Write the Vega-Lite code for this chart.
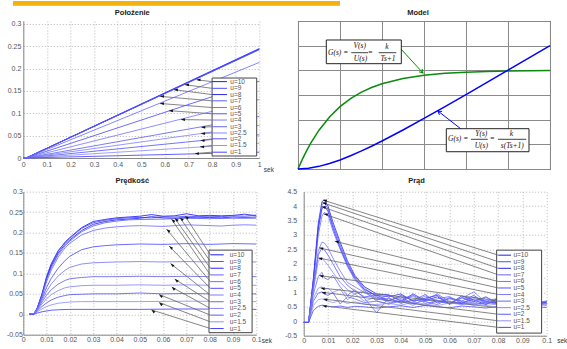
{
"$schema":"https://vega.github.io/schema/vega-lite/v6.json",
"background":"white",
"padding":{"left":1.3,"top":0,"right":0,"bottom":0},
"spacing":3.7,
"datasets":{
"pos":[
{"u":"u=10","t":0,"y":0},{"u":"u=10","t":0.012,"y":0},{"u":"u=10","t":1,"y":0.245},
{"u":"u=9","t":0,"y":0},{"u":"u=9","t":0.012,"y":0},{"u":"u=9","t":1,"y":0.244},
{"u":"u=8","t":0,"y":0},{"u":"u=8","t":0.012,"y":0},{"u":"u=8","t":1,"y":0.243},
{"u":"u=7","t":0,"y":0},{"u":"u=7","t":0.012,"y":0},{"u":"u=7","t":1,"y":0.2425},
{"u":"u=6","t":0,"y":0},{"u":"u=6","t":0.012,"y":0},{"u":"u=6","t":1,"y":0.214},
{"u":"u=5","t":0,"y":0},{"u":"u=5","t":0.012,"y":0},{"u":"u=5","t":1,"y":0.172},
{"u":"u=4","t":0,"y":0},{"u":"u=4","t":0.012,"y":0},{"u":"u=4","t":1,"y":0.131},
{"u":"u=3","t":0,"y":0},{"u":"u=3","t":0.012,"y":0},{"u":"u=3","t":1,"y":0.093},
{"u":"u=2.5","t":0,"y":0},{"u":"u=2.5","t":0.012,"y":0},{"u":"u=2.5","t":1,"y":0.073},
{"u":"u=2","t":0,"y":0},{"u":"u=2","t":0.012,"y":0},{"u":"u=2","t":1,"y":0.052},
{"u":"u=1.5","t":0,"y":0},{"u":"u=1.5","t":0.012,"y":0},{"u":"u=1.5","t":1,"y":0.033},
{"u":"u=1","t":0,"y":0},{"u":"u=1","t":0.012,"y":0},{"u":"u=1","t":1,"y":0.013}
],
"leg1":[
{"u":"u=10","lx":0.8,"ly":0.171,"tx":0.734,"ty":0.175},
{"u":"u=9","lx":0.8,"ly":0.156,"tx":0.685,"ty":0.164},
{"u":"u=8","lx":0.8,"ly":0.142,"tx":0.638,"ty":0.153},
{"u":"u=7","lx":0.8,"ly":0.128,"tx":0.579,"ty":0.138},
{"u":"u=6","lx":0.8,"ly":0.113,"tx":0.579,"ty":0.122},
{"u":"u=5","lx":0.8,"ly":0.099,"tx":0.617,"ty":0.106},
{"u":"u=4","lx":0.8,"ly":0.085,"tx":0.668,"ty":0.086},
{"u":"u=3","lx":0.8,"ly":0.070,"tx":0.754,"ty":0.069},
{"u":"u=2.5","lx":0.8,"ly":0.056,"tx":0.753,"ty":0.055},
{"u":"u=2","lx":0.8,"ly":0.043,"tx":0.751,"ty":0.039},
{"u":"u=1.5","lx":0.8,"ly":0.028,"tx":0.749,"ty":0.025},
{"u":"u=1","lx":0.8,"ly":0.013,"tx":0.727,"ty":0.010}
],
"model":[
{"c":"V","t":0,"y":0},{"c":"V","t":0.1,"y":0.381},{"c":"V","t":0.2,"y":0.725},{"c":"V","t":0.3,"y":1.037},{"c":"V","t":0.5,"y":1.574},{"c":"V","t":0.75,"y":2.111},{"c":"V","t":1,"y":2.528},{"c":"V","t":1.25,"y":2.854},{"c":"V","t":1.5,"y":3.107},{"c":"V","t":1.75,"y":3.305},{"c":"V","t":2,"y":3.459},{"c":"V","t":2.5,"y":3.672},{"c":"V","t":3,"y":3.801},{"c":"V","t":3.5,"y":3.879},{"c":"V","t":4,"y":3.927},{"c":"V","t":4.5,"y":3.956},{"c":"V","t":5,"y":3.973},{"c":"V","t":5.5,"y":3.984},{"c":"V","t":6,"y":3.99},
{"c":"Y","t":0,"y":0},{"c":"Y","t":0.25,"y":0.029},{"c":"Y","t":0.5,"y":0.107},{"c":"Y","t":0.75,"y":0.222},{"c":"Y","t":1,"y":0.368},{"c":"Y","t":1.25,"y":0.537},{"c":"Y","t":1.5,"y":0.723},{"c":"Y","t":1.75,"y":0.924},{"c":"Y","t":2,"y":1.135},{"c":"Y","t":2.5,"y":1.582},{"c":"Y","t":3,"y":2.05},{"c":"Y","t":3.5,"y":2.53},{"c":"Y","t":4,"y":3.018},{"c":"Y","t":4.5,"y":3.511},{"c":"Y","t":5,"y":4.007},{"c":"Y","t":5.5,"y":4.504},{"c":"Y","t":6,"y":5.002}
],
"boxes":[{"x":0.674,"x2":2.46,"y":5.23,"y2":4.27},{"x":3.531,"x2":5.5,"y":1.634,"y2":0.7}],
"ftxt":[
{"p":"L","x":0.714,"y":4.715,"s":"G(s) ="},{"p":"L","x":3.571,"y":1.204,"s":"G(s) ="},
{"p":"C","x":1.469,"y":4.99,"s":"V(s)"},{"p":"C","x":1.488,"y":4.45,"s":"U(s)"},{"p":"C","x":1.721,"y":4.715,"s":"="},{"p":"C","x":2.119,"y":4.96,"s":"k"},{"p":"C","x":2.143,"y":4.45,"s":"Ts+1"},
{"p":"C","x":4.364,"y":1.43,"s":"Y(s)"},{"p":"C","x":4.364,"y":0.93,"s":"U(s)"},{"p":"C","x":4.626,"y":1.204,"s":"="},{"p":"C","x":5.079,"y":1.43,"s":"k"},{"p":"C","x":5.102,"y":0.93,"s":"s(Ts+1)"}
],
"fbar":[{"x":1.269,"x2":1.667,"y":4.715},{"x":1.921,"x2":2.341,"y":4.715},{"x":4.119,"x2":4.517,"y":1.204},{"x":4.762,"x2":5.436,"y":1.204}],
"arr2":[{"c":"V","x":2.452,"y":4.865,"x2":2.976,"y2":3.892},{"c":"Y","x":3.881,"y":1.622,"x2":3.333,"y2":2.351}],
"vel":[
{"u":"u=10","t":0.0025,"v":0},{"u":"u=10","t":0.0045,"v":0},{"u":"u=10","t":0.006,"v":0.015},{"u":"u=10","t":0.008,"v":0.048},{"u":"u=10","t":0.01,"v":0.09},{"u":"u=10","t":0.012,"v":0.122},{"u":"u=10","t":0.015,"v":0.155},{"u":"u=10","t":0.018,"v":0.177},{"u":"u=10","t":0.02,"v":0.188},{"u":"u=10","t":0.025,"v":0.212},{"u":"u=10","t":0.03,"v":0.227},{"u":"u=10","t":0.035,"v":0.232},{"u":"u=10","t":0.04,"v":0.236},{"u":"u=10","t":0.045,"v":0.238},{"u":"u=10","t":0.05,"v":0.24},{"u":"u=10","t":0.055,"v":0.244},{"u":"u=10","t":0.06,"v":0.24},{"u":"u=10","t":0.065,"v":0.241},{"u":"u=10","t":0.07,"v":0.246},{"u":"u=10","t":0.075,"v":0.241},{"u":"u=10","t":0.08,"v":0.242},{"u":"u=10","t":0.085,"v":0.241},{"u":"u=10","t":0.09,"v":0.242},{"u":"u=10","t":0.095,"v":0.245},{"u":"u=10","t":0.1,"v":0.241},
{"u":"u=9","t":0.0025,"v":0},{"u":"u=9","t":0.0045,"v":0},{"u":"u=9","t":0.006,"v":0.016},{"u":"u=9","t":0.008,"v":0.05},{"u":"u=9","t":0.01,"v":0.093},{"u":"u=9","t":0.012,"v":0.124},{"u":"u=9","t":0.015,"v":0.156},{"u":"u=9","t":0.018,"v":0.176},{"u":"u=9","t":0.02,"v":0.186},{"u":"u=9","t":0.025,"v":0.21},{"u":"u=9","t":0.03,"v":0.224},{"u":"u=9","t":0.035,"v":0.23},{"u":"u=9","t":0.04,"v":0.234},{"u":"u=9","t":0.045,"v":0.236},{"u":"u=9","t":0.05,"v":0.237},{"u":"u=9","t":0.055,"v":0.236},{"u":"u=9","t":0.06,"v":0.239},{"u":"u=9","t":0.065,"v":0.238},{"u":"u=9","t":0.07,"v":0.24},{"u":"u=9","t":0.075,"v":0.239},{"u":"u=9","t":0.08,"v":0.24},{"u":"u=9","t":0.085,"v":0.239},{"u":"u=9","t":0.09,"v":0.241},{"u":"u=9","t":0.095,"v":0.24},{"u":"u=9","t":0.1,"v":0.243},
{"u":"u=8","t":0.0025,"v":0},{"u":"u=8","t":0.0045,"v":0},{"u":"u=8","t":0.006,"v":0.015},{"u":"u=8","t":0.008,"v":0.047},{"u":"u=8","t":0.01,"v":0.088},{"u":"u=8","t":0.012,"v":0.118},{"u":"u=8","t":0.015,"v":0.15},{"u":"u=8","t":0.018,"v":0.172},{"u":"u=8","t":0.02,"v":0.182},{"u":"u=8","t":0.025,"v":0.205},{"u":"u=8","t":0.03,"v":0.22},{"u":"u=8","t":0.035,"v":0.227},{"u":"u=8","t":0.04,"v":0.231},{"u":"u=8","t":0.045,"v":0.233},{"u":"u=8","t":0.05,"v":0.235},{"u":"u=8","t":0.055,"v":0.239},{"u":"u=8","t":0.06,"v":0.236},{"u":"u=8","t":0.065,"v":0.235},{"u":"u=8","t":0.07,"v":0.237},{"u":"u=8","t":0.075,"v":0.236},{"u":"u=8","t":0.08,"v":0.237},{"u":"u=8","t":0.085,"v":0.236},{"u":"u=8","t":0.09,"v":0.238},{"u":"u=8","t":0.095,"v":0.237},{"u":"u=8","t":0.1,"v":0.238},
{"u":"u=7","t":0.0025,"v":0},{"u":"u=7","t":0.0045,"v":0},{"u":"u=7","t":0.006,"v":0.014},{"u":"u=7","t":0.008,"v":0.045},{"u":"u=7","t":0.01,"v":0.085},{"u":"u=7","t":0.012,"v":0.114},{"u":"u=7","t":0.015,"v":0.146},{"u":"u=7","t":0.018,"v":0.168},{"u":"u=7","t":0.02,"v":0.179},{"u":"u=7","t":0.025,"v":0.202},{"u":"u=7","t":0.03,"v":0.216},{"u":"u=7","t":0.035,"v":0.224},{"u":"u=7","t":0.04,"v":0.228},{"u":"u=7","t":0.045,"v":0.231},{"u":"u=7","t":0.05,"v":0.232},{"u":"u=7","t":0.06,"v":0.233},{"u":"u=7","t":0.07,"v":0.235},{"u":"u=7","t":0.08,"v":0.234},{"u":"u=7","t":0.09,"v":0.235},{"u":"u=7","t":0.1,"v":0.235},
{"u":"u=6","t":0.0025,"v":0},{"u":"u=6","t":0.0045,"v":0},{"u":"u=6","t":0.006,"v":0.014},{"u":"u=6","t":0.008,"v":0.043},{"u":"u=6","t":0.01,"v":0.08},{"u":"u=6","t":0.012,"v":0.108},{"u":"u=6","t":0.015,"v":0.14},{"u":"u=6","t":0.018,"v":0.163},{"u":"u=6","t":0.02,"v":0.174},{"u":"u=6","t":0.025,"v":0.194},{"u":"u=6","t":0.03,"v":0.205},{"u":"u=6","t":0.035,"v":0.211},{"u":"u=6","t":0.04,"v":0.214},{"u":"u=6","t":0.045,"v":0.216},{"u":"u=6","t":0.05,"v":0.217},{"u":"u=6","t":0.055,"v":0.216},{"u":"u=6","t":0.06,"v":0.215},{"u":"u=6","t":0.065,"v":0.217},{"u":"u=6","t":0.07,"v":0.219},{"u":"u=6","t":0.075,"v":0.218},{"u":"u=6","t":0.08,"v":0.217},{"u":"u=6","t":0.085,"v":0.216},{"u":"u=6","t":0.09,"v":0.218},{"u":"u=6","t":0.095,"v":0.219},{"u":"u=6","t":0.1,"v":0.218},
{"u":"u=5","t":0.0025,"v":0},{"u":"u=5","t":0.0045,"v":0},{"u":"u=5","t":0.006,"v":0.013},{"u":"u=5","t":0.008,"v":0.038},{"u":"u=5","t":0.01,"v":0.066},{"u":"u=5","t":0.012,"v":0.088},{"u":"u=5","t":0.015,"v":0.113},{"u":"u=5","t":0.018,"v":0.132},{"u":"u=5","t":0.02,"v":0.142},{"u":"u=5","t":0.025,"v":0.158},{"u":"u=5","t":0.03,"v":0.165},{"u":"u=5","t":0.035,"v":0.168},{"u":"u=5","t":0.04,"v":0.17},{"u":"u=5","t":0.05,"v":0.172},{"u":"u=5","t":0.06,"v":0.171},{"u":"u=5","t":0.07,"v":0.173},{"u":"u=5","t":0.08,"v":0.171},{"u":"u=5","t":0.09,"v":0.173},{"u":"u=5","t":0.1,"v":0.172},
{"u":"u=4","t":0.0025,"v":0},{"u":"u=4","t":0.0045,"v":0},{"u":"u=4","t":0.006,"v":0.012},{"u":"u=4","t":0.008,"v":0.034},{"u":"u=4","t":0.01,"v":0.056},{"u":"u=4","t":0.012,"v":0.074},{"u":"u=4","t":0.015,"v":0.094},{"u":"u=4","t":0.018,"v":0.108},{"u":"u=4","t":0.02,"v":0.115},{"u":"u=4","t":0.025,"v":0.123},{"u":"u=4","t":0.03,"v":0.126},{"u":"u=4","t":0.035,"v":0.127},{"u":"u=4","t":0.04,"v":0.128},{"u":"u=4","t":0.05,"v":0.129},{"u":"u=4","t":0.06,"v":0.128},{"u":"u=4","t":0.07,"v":0.129},{"u":"u=4","t":0.08,"v":0.128},{"u":"u=4","t":0.09,"v":0.129},{"u":"u=4","t":0.1,"v":0.128},
{"u":"u=3","t":0.0025,"v":0},{"u":"u=3","t":0.0045,"v":0},{"u":"u=3","t":0.006,"v":0.011},{"u":"u=3","t":0.008,"v":0.03},{"u":"u=3","t":0.01,"v":0.047},{"u":"u=3","t":0.012,"v":0.06},{"u":"u=3","t":0.015,"v":0.074},{"u":"u=3","t":0.018,"v":0.083},{"u":"u=3","t":0.02,"v":0.087},{"u":"u=3","t":0.025,"v":0.09},{"u":"u=3","t":0.03,"v":0.092},{"u":"u=3","t":0.04,"v":0.092},{"u":"u=3","t":0.05,"v":0.093},{"u":"u=3","t":0.06,"v":0.092},{"u":"u=3","t":0.07,"v":0.093},{"u":"u=3","t":0.08,"v":0.092},{"u":"u=3","t":0.09,"v":0.093},{"u":"u=3","t":0.1,"v":0.092},
{"u":"u=2.5","t":0.0025,"v":0},{"u":"u=2.5","t":0.0045,"v":0},{"u":"u=2.5","t":0.006,"v":0.01},{"u":"u=2.5","t":0.008,"v":0.025},{"u":"u=2.5","t":0.01,"v":0.038},{"u":"u=2.5","t":0.012,"v":0.048},{"u":"u=2.5","t":0.015,"v":0.058},{"u":"u=2.5","t":0.018,"v":0.065},{"u":"u=2.5","t":0.02,"v":0.067},{"u":"u=2.5","t":0.025,"v":0.07},{"u":"u=2.5","t":0.03,"v":0.071},{"u":"u=2.5","t":0.04,"v":0.071},{"u":"u=2.5","t":0.05,"v":0.072},{"u":"u=2.5","t":0.06,"v":0.071},{"u":"u=2.5","t":0.07,"v":0.072},{"u":"u=2.5","t":0.08,"v":0.071},{"u":"u=2.5","t":0.09,"v":0.071},{"u":"u=2.5","t":0.1,"v":0.071},
{"u":"u=2","t":0.0025,"v":0},{"u":"u=2","t":0.0045,"v":0},{"u":"u=2","t":0.006,"v":0.008},{"u":"u=2","t":0.008,"v":0.019},{"u":"u=2","t":0.01,"v":0.028},{"u":"u=2","t":0.012,"v":0.035},{"u":"u=2","t":0.015,"v":0.042},{"u":"u=2","t":0.018,"v":0.046},{"u":"u=2","t":0.02,"v":0.048},{"u":"u=2","t":0.025,"v":0.049},{"u":"u=2","t":0.03,"v":0.05},{"u":"u=2","t":0.04,"v":0.05},{"u":"u=2","t":0.05,"v":0.052},{"u":"u=2","t":0.06,"v":0.05},{"u":"u=2","t":0.07,"v":0.051},{"u":"u=2","t":0.08,"v":0.05},{"u":"u=2","t":0.09,"v":0.05},{"u":"u=2","t":0.1,"v":0.05},
{"u":"u=1.5","t":0.0025,"v":0},{"u":"u=1.5","t":0.0045,"v":0},{"u":"u=1.5","t":0.006,"v":0.006},{"u":"u=1.5","t":0.008,"v":0.013},{"u":"u=1.5","t":0.01,"v":0.019},{"u":"u=1.5","t":0.012,"v":0.023},{"u":"u=1.5","t":0.015,"v":0.027},{"u":"u=1.5","t":0.018,"v":0.029},{"u":"u=1.5","t":0.02,"v":0.03},{"u":"u=1.5","t":0.025,"v":0.031},{"u":"u=1.5","t":0.03,"v":0.031},{"u":"u=1.5","t":0.05,"v":0.031},{"u":"u=1.5","t":0.07,"v":0.032},{"u":"u=1.5","t":0.1,"v":0.031},
{"u":"u=1","t":0.0025,"v":0},{"u":"u=1","t":0.0045,"v":0},{"u":"u=1","t":0.006,"v":0.003},{"u":"u=1","t":0.008,"v":0.006},{"u":"u=1","t":0.01,"v":0.008},{"u":"u=1","t":0.012,"v":0.01},{"u":"u=1","t":0.015,"v":0.011},{"u":"u=1","t":0.02,"v":0.012},{"u":"u=1","t":0.03,"v":0.012},{"u":"u=1","t":0.05,"v":0.012},{"u":"u=1","t":0.07,"v":0.013},{"u":"u=1","t":0.1,"v":0.012}
],
"leg3":[
{"u":"u=10","lx":0.0803,"ly":0.1455,"tx":0.0694,"ty":0.2406},
{"u":"u=9","lx":0.0803,"ly":0.1291,"tx":0.0672,"ty":0.2365},
{"u":"u=8","lx":0.0803,"ly":0.1127,"tx":0.065,"ty":0.235},
{"u":"u=7","lx":0.0803,"ly":0.0963,"tx":0.0636,"ty":0.2325},
{"u":"u=6","lx":0.0803,"ly":0.0799,"tx":0.0615,"ty":0.208},
{"u":"u=5","lx":0.0803,"ly":0.0635,"tx":0.0626,"ty":0.1668},
{"u":"u=4","lx":0.0803,"ly":0.0471,"tx":0.0632,"ty":0.124},
{"u":"u=3","lx":0.0803,"ly":0.0307,"tx":0.065,"ty":0.0862},
{"u":"u=2.5","lx":0.0803,"ly":0.0143,"tx":0.0637,"ty":0.0665},
{"u":"u=2","lx":0.0803,"ly":-0.0021,"tx":0.0583,"ty":0.0485},
{"u":"u=1.5","lx":0.0803,"ly":-0.0185,"tx":0.0583,"ty":0.0288},
{"u":"u=1","lx":0.0803,"ly":-0.0349,"tx":0.055,"ty":0.0108}
],
"cur":[
{"u":"u=10","t":0,"i":-0.04},{"u":"u=10","t":0.002,"i":-0.04},{"u":"u=10","t":0.004,"i":1.5},{"u":"u=10","t":0.006,"i":3.4},{"u":"u=10","t":0.0075,"i":4.15},{"u":"u=10","t":0.0085,"i":4.22},{"u":"u=10","t":0.01,"i":4.0},{"u":"u=10","t":0.012,"i":3.45},{"u":"u=10","t":0.015,"i":2.75},{"u":"u=10","t":0.018,"i":2.1},{"u":"u=10","t":0.021,"i":1.6},{"u":"u=10","t":0.025,"i":1.2},{"u":"u=10","t":0.03,"i":0.95},{"u":"u=10","t":0.035,"i":0.92},{"u":"u=10","t":0.04,"i":0.7},{"u":"u=10","t":0.045,"i":0.95},{"u":"u=10","t":0.05,"i":0.72},{"u":"u=10","t":0.055,"i":0.85},{"u":"u=10","t":0.06,"i":0.6},{"u":"u=10","t":0.065,"i":0.88},{"u":"u=10","t":0.07,"i":0.74},{"u":"u=10","t":0.075,"i":0.58},{"u":"u=10","t":0.08,"i":0.8},{"u":"u=10","t":0.085,"i":0.66},{"u":"u=10","t":0.09,"i":0.76},{"u":"u=10","t":0.095,"i":0.6},{"u":"u=10","t":0.1,"i":0.7},
{"u":"u=9","t":0,"i":-0.04},{"u":"u=9","t":0.002,"i":-0.04},{"u":"u=9","t":0.004,"i":1.45},{"u":"u=9","t":0.006,"i":3.3},{"u":"u=9","t":0.0075,"i":4.05},{"u":"u=9","t":0.0085,"i":4.13},{"u":"u=9","t":0.01,"i":3.9},{"u":"u=9","t":0.012,"i":3.35},{"u":"u=9","t":0.015,"i":2.65},{"u":"u=9","t":0.018,"i":2.02},{"u":"u=9","t":0.021,"i":1.55},{"u":"u=9","t":0.025,"i":1.15},{"u":"u=9","t":0.03,"i":0.85},{"u":"u=9","t":0.035,"i":0.7},{"u":"u=9","t":0.04,"i":0.9},{"u":"u=9","t":0.045,"i":0.72},{"u":"u=9","t":0.05,"i":0.93},{"u":"u=9","t":0.055,"i":0.64},{"u":"u=9","t":0.06,"i":0.82},{"u":"u=9","t":0.065,"i":0.7},{"u":"u=9","t":0.07,"i":0.9},{"u":"u=9","t":0.075,"i":0.62},{"u":"u=9","t":0.08,"i":0.68},{"u":"u=9","t":0.085,"i":0.78},{"u":"u=9","t":0.09,"i":0.58},{"u":"u=9","t":0.095,"i":0.72},{"u":"u=9","t":0.1,"i":0.64},
{"u":"u=8","t":0,"i":-0.04},{"u":"u=8","t":0.002,"i":-0.04},{"u":"u=8","t":0.004,"i":1.4},{"u":"u=8","t":0.006,"i":3.2},{"u":"u=8","t":0.0075,"i":3.9},{"u":"u=8","t":0.0085,"i":4.0},{"u":"u=8","t":0.01,"i":3.82},{"u":"u=8","t":0.012,"i":3.25},{"u":"u=8","t":0.015,"i":2.55},{"u":"u=8","t":0.018,"i":1.95},{"u":"u=8","t":0.021,"i":1.5},{"u":"u=8","t":0.025,"i":1.1},{"u":"u=8","t":0.03,"i":0.9},{"u":"u=8","t":0.035,"i":0.85},{"u":"u=8","t":0.04,"i":0.95},{"u":"u=8","t":0.045,"i":0.7},{"u":"u=8","t":0.05,"i":0.8},{"u":"u=8","t":0.055,"i":0.9},{"u":"u=8","t":0.06,"i":0.6},{"u":"u=8","t":0.065,"i":0.82},{"u":"u=8","t":0.07,"i":0.68},{"u":"u=8","t":0.075,"i":0.85},{"u":"u=8","t":0.08,"i":0.6},{"u":"u=8","t":0.085,"i":0.72},{"u":"u=8","t":0.09,"i":0.75},{"u":"u=8","t":0.095,"i":0.55},{"u":"u=8","t":0.1,"i":0.68},
{"u":"u=7","t":0,"i":-0.04},{"u":"u=7","t":0.002,"i":-0.04},{"u":"u=7","t":0.004,"i":1.35},{"u":"u=7","t":0.006,"i":3.0},{"u":"u=7","t":0.0075,"i":3.65},{"u":"u=7","t":0.0085,"i":3.78},{"u":"u=7","t":0.01,"i":3.7},{"u":"u=7","t":0.012,"i":3.15},{"u":"u=7","t":0.015,"i":2.5},{"u":"u=7","t":0.018,"i":1.9},{"u":"u=7","t":0.021,"i":1.45},{"u":"u=7","t":0.025,"i":1.05},{"u":"u=7","t":0.03,"i":0.8},{"u":"u=7","t":0.035,"i":0.78},{"u":"u=7","t":0.04,"i":0.66},{"u":"u=7","t":0.045,"i":0.9},{"u":"u=7","t":0.05,"i":0.7},{"u":"u=7","t":0.055,"i":0.78},{"u":"u=7","t":0.06,"i":0.86},{"u":"u=7","t":0.065,"i":0.62},{"u":"u=7","t":0.07,"i":0.84},{"u":"u=7","t":0.075,"i":0.7},{"u":"u=7","t":0.08,"i":0.8},{"u":"u=7","t":0.085,"i":0.58},{"u":"u=7","t":0.09,"i":0.7},{"u":"u=7","t":0.095,"i":0.72},{"u":"u=7","t":0.1,"i":0.62},
{"u":"u=6","t":0,"i":-0.04},{"u":"u=6","t":0.002,"i":-0.04},{"u":"u=6","t":0.004,"i":1.2},{"u":"u=6","t":0.006,"i":2.45},{"u":"u=6","t":0.0075,"i":2.75},{"u":"u=6","t":0.0085,"i":2.72},{"u":"u=6","t":0.01,"i":2.55},{"u":"u=6","t":0.012,"i":2.2},{"u":"u=6","t":0.015,"i":1.75},{"u":"u=6","t":0.018,"i":1.35},{"u":"u=6","t":0.021,"i":1.2},{"u":"u=6","t":0.025,"i":1.0},{"u":"u=6","t":0.03,"i":0.75},{"u":"u=6","t":0.035,"i":0.9},{"u":"u=6","t":0.04,"i":0.75},{"u":"u=6","t":0.045,"i":0.65},{"u":"u=6","t":0.05,"i":0.88},{"u":"u=6","t":0.055,"i":0.7},{"u":"u=6","t":0.06,"i":0.62},{"u":"u=6","t":0.065,"i":0.8},{"u":"u=6","t":0.07,"i":1.02},{"u":"u=6","t":0.075,"i":0.66},{"u":"u=6","t":0.08,"i":0.72},{"u":"u=6","t":0.085,"i":0.6},{"u":"u=6","t":0.09,"i":0.74},{"u":"u=6","t":0.095,"i":0.7},{"u":"u=6","t":0.1,"i":0.6},
{"u":"u=5","t":0,"i":-0.04},{"u":"u=5","t":0.002,"i":-0.04},{"u":"u=5","t":0.004,"i":1.15},{"u":"u=5","t":0.006,"i":2.3},{"u":"u=5","t":0.0075,"i":2.55},{"u":"u=5","t":0.0085,"i":2.48},{"u":"u=5","t":0.01,"i":2.3},{"u":"u=5","t":0.012,"i":2.0},{"u":"u=5","t":0.015,"i":1.55},{"u":"u=5","t":0.018,"i":1.25},{"u":"u=5","t":0.021,"i":1.05},{"u":"u=5","t":0.025,"i":0.85},{"u":"u=5","t":0.03,"i":0.9},{"u":"u=5","t":0.035,"i":0.72},{"u":"u=5","t":0.04,"i":0.85},{"u":"u=5","t":0.045,"i":0.6},{"u":"u=5","t":0.05,"i":0.75},{"u":"u=5","t":0.055,"i":0.95},{"u":"u=5","t":0.06,"i":0.68},{"u":"u=5","t":0.065,"i":0.62},{"u":"u=5","t":0.07,"i":0.78},{"u":"u=5","t":0.075,"i":0.7},{"u":"u=5","t":0.08,"i":0.6},{"u":"u=5","t":0.085,"i":0.76},{"u":"u=5","t":0.09,"i":0.64},{"u":"u=5","t":0.095,"i":0.58},{"u":"u=5","t":0.1,"i":0.66},
{"u":"u=4","t":0,"i":-0.04},{"u":"u=4","t":0.002,"i":-0.04},{"u":"u=4","t":0.004,"i":1.1},{"u":"u=4","t":0.006,"i":2.1},{"u":"u=4","t":0.0075,"i":2.2},{"u":"u=4","t":0.0085,"i":2.1},{"u":"u=4","t":0.01,"i":1.95},{"u":"u=4","t":0.012,"i":1.7},{"u":"u=4","t":0.015,"i":1.35},{"u":"u=4","t":0.018,"i":1.1},{"u":"u=4","t":0.021,"i":0.95},{"u":"u=4","t":0.025,"i":1.05},{"u":"u=4","t":0.03,"i":0.7},{"u":"u=4","t":0.035,"i":0.6},{"u":"u=4","t":0.04,"i":0.8},{"u":"u=4","t":0.045,"i":0.88},{"u":"u=4","t":0.05,"i":0.62},{"u":"u=4","t":0.055,"i":0.7},{"u":"u=4","t":0.06,"i":0.78},{"u":"u=4","t":0.065,"i":0.66},{"u":"u=4","t":0.07,"i":0.6},{"u":"u=4","t":0.075,"i":0.82},{"u":"u=4","t":0.08,"i":0.68},{"u":"u=4","t":0.085,"i":0.62},{"u":"u=4","t":0.09,"i":0.7},{"u":"u=4","t":0.095,"i":0.64},{"u":"u=4","t":0.1,"i":0.7},
{"u":"u=3","t":0,"i":-0.04},{"u":"u=3","t":0.002,"i":-0.04},{"u":"u=3","t":0.004,"i":0.95},{"u":"u=3","t":0.006,"i":1.55},{"u":"u=3","t":0.0075,"i":1.7},{"u":"u=3","t":0.0085,"i":1.5},{"u":"u=3","t":0.01,"i":1.45},{"u":"u=3","t":0.012,"i":1.6},{"u":"u=3","t":0.015,"i":1.2},{"u":"u=3","t":0.018,"i":0.9},{"u":"u=3","t":0.021,"i":1.1},{"u":"u=3","t":0.025,"i":0.8},{"u":"u=3","t":0.03,"i":0.3},{"u":"u=3","t":0.035,"i":0.82},{"u":"u=3","t":0.04,"i":0.62},{"u":"u=3","t":0.045,"i":0.75},{"u":"u=3","t":0.05,"i":0.68},{"u":"u=3","t":0.055,"i":0.58},{"u":"u=3","t":0.06,"i":0.8},{"u":"u=3","t":0.065,"i":0.7},{"u":"u=3","t":0.07,"i":0.64},{"u":"u=3","t":0.075,"i":0.6},{"u":"u=3","t":0.08,"i":0.72},{"u":"u=3","t":0.085,"i":0.66},{"u":"u=3","t":0.09,"i":0.56},{"u":"u=3","t":0.095,"i":0.7},{"u":"u=3","t":0.1,"i":0.6},
{"u":"u=2.5","t":0,"i":-0.04},{"u":"u=2.5","t":0.002,"i":-0.04},{"u":"u=2.5","t":0.004,"i":0.8},{"u":"u=2.5","t":0.006,"i":1.15},{"u":"u=2.5","t":0.0075,"i":1.2},{"u":"u=2.5","t":0.0085,"i":1.1},{"u":"u=2.5","t":0.01,"i":1.15},{"u":"u=2.5","t":0.012,"i":1.0},{"u":"u=2.5","t":0.015,"i":1.12},{"u":"u=2.5","t":0.018,"i":0.75},{"u":"u=2.5","t":0.021,"i":0.95},{"u":"u=2.5","t":0.025,"i":0.7},{"u":"u=2.5","t":0.03,"i":0.85},{"u":"u=2.5","t":0.035,"i":0.65},{"u":"u=2.5","t":0.04,"i":0.72},{"u":"u=2.5","t":0.045,"i":0.55},{"u":"u=2.5","t":0.05,"i":0.78},{"u":"u=2.5","t":0.055,"i":0.64},{"u":"u=2.5","t":0.06,"i":0.7},{"u":"u=2.5","t":0.065,"i":0.58},{"u":"u=2.5","t":0.07,"i":0.74},{"u":"u=2.5","t":0.075,"i":0.66},{"u":"u=2.5","t":0.08,"i":0.58},{"u":"u=2.5","t":0.085,"i":0.7},{"u":"u=2.5","t":0.09,"i":0.62},{"u":"u=2.5","t":0.095,"i":0.56},{"u":"u=2.5","t":0.1,"i":0.62},
{"u":"u=2","t":0,"i":-0.04},{"u":"u=2","t":0.002,"i":-0.04},{"u":"u=2","t":0.004,"i":0.7},{"u":"u=2","t":0.006,"i":0.98},{"u":"u=2","t":0.0075,"i":1.02},{"u":"u=2","t":0.0085,"i":0.95},{"u":"u=2","t":0.01,"i":0.9},{"u":"u=2","t":0.012,"i":1.0},{"u":"u=2","t":0.015,"i":0.6},{"u":"u=2","t":0.018,"i":0.85},{"u":"u=2","t":0.021,"i":0.78},{"u":"u=2","t":0.025,"i":0.65},{"u":"u=2","t":0.03,"i":0.7},{"u":"u=2","t":0.035,"i":0.6},{"u":"u=2","t":0.04,"i":0.7},{"u":"u=2","t":0.045,"i":0.64},{"u":"u=2","t":0.05,"i":0.55},{"u":"u=2","t":0.055,"i":0.72},{"u":"u=2","t":0.06,"i":0.6},{"u":"u=2","t":0.065,"i":0.66},{"u":"u=2","t":0.07,"i":0.56},{"u":"u=2","t":0.075,"i":0.68},{"u":"u=2","t":0.08,"i":0.62},{"u":"u=2","t":0.085,"i":0.55},{"u":"u=2","t":0.09,"i":0.64},{"u":"u=2","t":0.095,"i":0.6},{"u":"u=2","t":0.1,"i":0.56},
{"u":"u=1.5","t":0,"i":-0.04},{"u":"u=1.5","t":0.002,"i":-0.04},{"u":"u=1.5","t":0.004,"i":0.55},{"u":"u=1.5","t":0.006,"i":0.75},{"u":"u=1.5","t":0.0075,"i":0.78},{"u":"u=1.5","t":0.0085,"i":0.74},{"u":"u=1.5","t":0.01,"i":0.7},{"u":"u=1.5","t":0.012,"i":0.65},{"u":"u=1.5","t":0.015,"i":0.72},{"u":"u=1.5","t":0.018,"i":0.62},{"u":"u=1.5","t":0.021,"i":0.68},{"u":"u=1.5","t":0.025,"i":0.6},{"u":"u=1.5","t":0.03,"i":0.58},{"u":"u=1.5","t":0.035,"i":0.62},{"u":"u=1.5","t":0.04,"i":0.56},{"u":"u=1.5","t":0.045,"i":0.66},{"u":"u=1.5","t":0.05,"i":0.6},{"u":"u=1.5","t":0.055,"i":0.54},{"u":"u=1.5","t":0.06,"i":0.64},{"u":"u=1.5","t":0.065,"i":0.58},{"u":"u=1.5","t":0.07,"i":0.62},{"u":"u=1.5","t":0.075,"i":0.55},{"u":"u=1.5","t":0.08,"i":0.6},{"u":"u=1.5","t":0.085,"i":0.58},{"u":"u=1.5","t":0.09,"i":0.52},{"u":"u=1.5","t":0.095,"i":0.6},{"u":"u=1.5","t":0.1,"i":0.55},
{"u":"u=1","t":0,"i":-0.04},{"u":"u=1","t":0.002,"i":-0.04},{"u":"u=1","t":0.004,"i":0.38},{"u":"u=1","t":0.006,"i":0.52},{"u":"u=1","t":0.0075,"i":0.56},{"u":"u=1","t":0.0085,"i":0.55},{"u":"u=1","t":0.01,"i":0.52},{"u":"u=1","t":0.012,"i":0.5},{"u":"u=1","t":0.015,"i":0.53},{"u":"u=1","t":0.018,"i":0.48},{"u":"u=1","t":0.021,"i":0.52},{"u":"u=1","t":0.025,"i":0.5},{"u":"u=1","t":0.03,"i":0.46},{"u":"u=1","t":0.035,"i":0.5},{"u":"u=1","t":0.04,"i":0.54},{"u":"u=1","t":0.045,"i":0.48},{"u":"u=1","t":0.05,"i":0.55},{"u":"u=1","t":0.055,"i":0.5},{"u":"u=1","t":0.06,"i":0.47},{"u":"u=1","t":0.065,"i":0.53},{"u":"u=1","t":0.07,"i":0.5},{"u":"u=1","t":0.075,"i":0.46},{"u":"u=1","t":0.08,"i":0.52},{"u":"u=1","t":0.085,"i":0.49},{"u":"u=1","t":0.09,"i":0.45},{"u":"u=1","t":0.095,"i":0.5},{"u":"u=1","t":0.1,"i":0.48}
],
"leg4":[
{"u":"u=10","lx":0.0801,"ly":2.296,"tx":0.0079,"ty":4.21},
{"u":"u=9","lx":0.0801,"ly":2.068,"tx":0.0077,"ty":4.12},
{"u":"u=8","lx":0.0801,"ly":1.84,"tx":0.0074,"ty":3.98},
{"u":"u=7","lx":0.0801,"ly":1.612,"tx":0.0083,"ty":3.73},
{"u":"u=6","lx":0.0801,"ly":1.384,"tx":0.0128,"ty":2.78},
{"u":"u=5","lx":0.0801,"ly":1.157,"tx":0.0064,"ty":2.55},
{"u":"u=4","lx":0.0801,"ly":0.929,"tx":0.006,"ty":2.2},
{"u":"u=3","lx":0.0801,"ly":0.701,"tx":0.0064,"ty":1.59},
{"u":"u=2.5","lx":0.0801,"ly":0.473,"tx":0.007,"ty":1.16},
{"u":"u=2","lx":0.0801,"ly":0.245,"tx":0.0074,"ty":1.01},
{"u":"u=1.5","lx":0.0801,"ly":0.017,"tx":0.0081,"ty":0.775},
{"u":"u=1","lx":0.0801,"ly":-0.211,"tx":0.0078,"ty":0.544}
]
},
"vconcat":[
{"bounds":"flush","spacing":38.7,"hconcat":[
{"width":236,"height":137,"title":{"text":"Położenie","offset":5,"dx":-9,"dy":21},
"layer":[
{"data":{"name":"pos"},"mark":{"type":"line","strokeWidth":1,"opacity":0.85},
"encoding":{
"x":{"field":"t","type":"quantitative","scale":{"domain":[0,1],"nice":false},"axis":{"values":[0,0.1,0.2,0.3,0.4,0.5,0.6,0.7,0.8,0.9,1],"format":"~g","labelPadding":2,"title":"sek","titleX":240,"titleY":11,"titleAlign":"left","titleBaseline":"middle"}},
"y":{"field":"y","type":"quantitative","scale":{"domain":[0,0.3067],"nice":false},"axis":{"values":[0,0.05,0.1,0.15,0.2,0.25,0.3],"format":"~g","labelPadding":2.5,"title":"|","titleOpacity":0,"titleX":-22,"titleY":60,"titleAngle":0,"titleAlign":"left","titleBaseline":"middle"}},
"color":{"field":"u","type":"nominal","scale":{"domain":["u=10","u=9","u=8","u=7","u=6","u=5","u=4","u=3","u=2.5","u=2","u=1.5","u=1"],"range":["#1a1aff","#4d4dff","#2626f2","#5e5eff","#7070ff","#5252ff","#7a7aff","#6666ee","#8585ff","#5a5aff","#8f8fff","#4444ff"]},"legend":null}}},
{"data":{"values":[{}]},"mark":{"type":"rect","fill":"white","stroke":"#444","strokeWidth":1},
"encoding":{"x":{"datum":0.8,"type":"quantitative","axis":{"values":[0,0.1,0.2,0.3,0.4,0.5,0.6,0.7,0.8,0.9,1],"format":"~g","labelPadding":2,"title":"sek","titleX":240,"titleY":11,"titleAlign":"left","titleBaseline":"middle"}},"x2":{"datum":0.989},
"y":{"datum":0.179,"type":"quantitative","axis":{"values":[0,0.05,0.1,0.15,0.2,0.25,0.3],"format":"~g","labelPadding":2.5,"title":"|","titleOpacity":0,"titleX":-22,"titleY":60,"titleAngle":0,"titleAlign":"left","titleBaseline":"middle"}},"y2":{"datum":0.0045}}},
{"data":{"name":"leg1"},"mark":{"type":"rule","strokeWidth":1},
"encoding":{"x":{"datum":0.8,"type":"quantitative","axis":{"values":[0,0.1,0.2,0.3,0.4,0.5,0.6,0.7,0.8,0.9,1],"format":"~g","labelPadding":2,"title":"sek","titleX":240,"titleY":11,"titleAlign":"left","titleBaseline":"middle"}},"x2":{"datum":0.863},
"y":{"field":"ly","type":"quantitative","axis":{"values":[0,0.05,0.1,0.15,0.2,0.25,0.3],"format":"~g","labelPadding":2.5,"title":"|","titleOpacity":0,"titleX":-22,"titleY":60,"titleAngle":0,"titleAlign":"left","titleBaseline":"middle"}},
"color":{"field":"u","type":"nominal","scale":{"domain":["u=10","u=9","u=8","u=7","u=6","u=5","u=4","u=3","u=2.5","u=2","u=1.5","u=1"],"range":["#1a1aff","#4d4dff","#2626f2","#5e5eff","#7070ff","#5252ff","#7a7aff","#6666ee","#8585ff","#5a5aff","#8f8fff","#4444ff"]},"legend":null}}},
{"data":{"name":"leg1"},"mark":{"type":"text","align":"left","baseline":"middle","font":"Liberation Sans","fontSize":6.5,"color":"#555"},
"encoding":{"x":{"datum":0.877,"type":"quantitative","axis":{"values":[0,0.1,0.2,0.3,0.4,0.5,0.6,0.7,0.8,0.9,1],"format":"~g","labelPadding":2,"title":"sek","titleX":240,"titleY":11,"titleAlign":"left","titleBaseline":"middle"}},
"y":{"field":"ly","type":"quantitative","axis":{"values":[0,0.05,0.1,0.15,0.2,0.25,0.3],"format":"~g","labelPadding":2.5,"title":"|","titleOpacity":0,"titleX":-22,"titleY":60,"titleAngle":0,"titleAlign":"left","titleBaseline":"middle"}},"text":{"field":"u","type":"nominal"}}},
{"data":{"name":"leg1"},"mark":{"type":"rule","color":"#666","strokeWidth":0.8},
"encoding":{"x":{"field":"tx","type":"quantitative","axis":{"values":[0,0.1,0.2,0.3,0.4,0.5,0.6,0.7,0.8,0.9,1],"format":"~g","labelPadding":2,"title":"sek","titleX":240,"titleY":11,"titleAlign":"left","titleBaseline":"middle"}},"x2":{"field":"lx"},
"y":{"field":"ty","type":"quantitative","axis":{"values":[0,0.05,0.1,0.15,0.2,0.25,0.3],"format":"~g","labelPadding":2.5,"title":"|","titleOpacity":0,"titleX":-22,"titleY":60,"titleAngle":0,"titleAlign":"left","titleBaseline":"middle"}},"y2":{"field":"ly"}}},
{"data":{"name":"leg1"},"mark":{"type":"point","shape":"M0,0L1.6,-0.55L1.6,0.55Z","filled":true,"color":"#111","size":25,"opacity":1,"angle":2},
"encoding":{"x":{"field":"tx","type":"quantitative","axis":{"values":[0,0.1,0.2,0.3,0.4,0.5,0.6,0.7,0.8,0.9,1],"format":"~g","labelPadding":2,"title":"sek","titleX":240,"titleY":11,"titleAlign":"left","titleBaseline":"middle"}},
"y":{"field":"ty","type":"quantitative","axis":{"values":[0,0.05,0.1,0.15,0.2,0.25,0.3],"format":"~g","labelPadding":2.5,"title":"|","titleOpacity":0,"titleX":-22,"titleY":60,"titleAngle":0,"titleAlign":"left","titleBaseline":"middle"}}}},
{"data":{"values":[{}]},"mark":{"type":"rect","color":"#f3b10b","clip":false},
"encoding":{"x":{"datum":-0.0436,"type":"quantitative","axis":{"values":[0,0.1,0.2,0.3,0.4,0.5,0.6,0.7,0.8,0.9,1],"format":"~g","labelPadding":2,"title":"sek","titleX":240,"titleY":11,"titleAlign":"left","titleBaseline":"middle"}},"x2":{"datum":1.342},
"y":{"datum":0.3515,"type":"quantitative","axis":{"values":[0,0.05,0.1,0.15,0.2,0.25,0.3],"format":"~g","labelPadding":2.5,"title":"|","titleOpacity":0,"titleX":-22,"titleY":60,"titleAngle":0,"titleAlign":"left","titleBaseline":"middle"}},"y2":{"datum":0.341}}}
]},
{"width":252,"height":148,"title":{"text":"Model","offset":5,"dx":-6},"view":{"stroke":"#000","strokeWidth":1},
"layer":[
{"data":{"name":"model"},"transform":[{"filter":"datum.c=='V'"}],"mark":{"type":"line","strokeWidth":1.5,"color":"#0b8a0b"},
"encoding":{
"x":{"field":"t","type":"quantitative","scale":{"domain":[0,6],"nice":false},"axis":{"values":[0,1,2,3,4,5,6],"labels":false,"domain":false,"grid":true,"gridColor":"#8a8a8a","gridDash":[],"gridWidth":1,"title":null}},
"y":{"field":"y","type":"quantitative","scale":{"domain":[0,6],"nice":false},"axis":{"values":[0,1,2,3,4,5,6],"labels":false,"domain":false,"grid":true,"gridColor":"#8a8a8a","gridDash":[],"gridWidth":1,"title":null}}}},
{"data":{"name":"model"},"transform":[{"filter":"datum.c=='Y'"}],"mark":{"type":"line","strokeWidth":1.5,"color":"#0000ff"},
"encoding":{
"x":{"field":"t","type":"quantitative","axis":{"values":[0,1,2,3,4,5,6],"labels":false,"domain":false,"grid":true,"gridColor":"#8a8a8a","gridDash":[],"gridWidth":1,"title":null}},
"y":{"field":"y","type":"quantitative","axis":{"values":[0,1,2,3,4,5,6],"labels":false,"domain":false,"grid":true,"gridColor":"#8a8a8a","gridDash":[],"gridWidth":1,"title":null}}}},
{"data":{"name":"arr2"},"transform":[{"filter":"datum.c=='V'"}],"layer":[
{"mark":{"type":"rule","strokeWidth":1,"color":"#0b8a0b"},
"encoding":{"x":{"field":"x","type":"quantitative","axis":{"values":[0,1,2,3,4,5,6],"labels":false,"domain":false,"grid":true,"gridColor":"#8a8a8a","gridDash":[],"gridWidth":1,"title":null}},"x2":{"field":"x2"},
"y":{"field":"y","type":"quantitative","axis":{"values":[0,1,2,3,4,5,6],"labels":false,"domain":false,"grid":true,"gridColor":"#8a8a8a","gridDash":[],"gridWidth":1,"title":null}},"y2":{"field":"y2"}}},
{"mark":{"type":"point","shape":"M-0.6,1L0,0L0.6,1","filled":false,"strokeWidth":1,"size":50,"opacity":1,"angle":137.5,"color":"#0b8a0b"},
"encoding":{"x":{"field":"x2","type":"quantitative","axis":{"values":[0,1,2,3,4,5,6],"labels":false,"domain":false,"grid":true,"gridColor":"#8a8a8a","gridDash":[],"gridWidth":1,"title":null}},
"y":{"field":"y2","type":"quantitative","axis":{"values":[0,1,2,3,4,5,6],"labels":false,"domain":false,"grid":true,"gridColor":"#8a8a8a","gridDash":[],"gridWidth":1,"title":null}}}}
]},
{"data":{"name":"arr2"},"transform":[{"filter":"datum.c=='Y'"}],"layer":[
{"mark":{"type":"rule","strokeWidth":1,"color":"#0000ff"},
"encoding":{"x":{"field":"x","type":"quantitative","axis":{"values":[0,1,2,3,4,5,6],"labels":false,"domain":false,"grid":true,"gridColor":"#8a8a8a","gridDash":[],"gridWidth":1,"title":null}},"x2":{"field":"x2"},
"y":{"field":"y","type":"quantitative","axis":{"values":[0,1,2,3,4,5,6],"labels":false,"domain":false,"grid":true,"gridColor":"#8a8a8a","gridDash":[],"gridWidth":1,"title":null}},"y2":{"field":"y2"}}},
{"mark":{"type":"point","shape":"M-0.6,1L0,0L0.6,1","filled":false,"strokeWidth":1,"size":50,"opacity":1,"angle":308,"color":"#0000ff"},
"encoding":{"x":{"field":"x2","type":"quantitative","axis":{"values":[0,1,2,3,4,5,6],"labels":false,"domain":false,"grid":true,"gridColor":"#8a8a8a","gridDash":[],"gridWidth":1,"title":null}},
"y":{"field":"y2","type":"quantitative","axis":{"values":[0,1,2,3,4,5,6],"labels":false,"domain":false,"grid":true,"gridColor":"#8a8a8a","gridDash":[],"gridWidth":1,"title":null}}}}
]},
{"data":{"name":"boxes"},"mark":{"type":"rect","fill":"white","stroke":"#222","strokeWidth":1},
"encoding":{"x":{"field":"x","type":"quantitative","axis":{"values":[0,1,2,3,4,5,6],"labels":false,"domain":false,"grid":true,"gridColor":"#8a8a8a","gridDash":[],"gridWidth":1,"title":null}},"x2":{"field":"x2"},
"y":{"field":"y","type":"quantitative","axis":{"values":[0,1,2,3,4,5,6],"labels":false,"domain":false,"grid":true,"gridColor":"#8a8a8a","gridDash":[],"gridWidth":1,"title":null}},"y2":{"field":"y2"}}},
{"data":{"name":"fbar"},"mark":{"type":"rule","color":"#111","strokeWidth":0.8},
"encoding":{"x":{"field":"x","type":"quantitative","axis":{"values":[0,1,2,3,4,5,6],"labels":false,"domain":false,"grid":true,"gridColor":"#8a8a8a","gridDash":[],"gridWidth":1,"title":null}},"x2":{"field":"x2"},
"y":{"field":"y","type":"quantitative","axis":{"values":[0,1,2,3,4,5,6],"labels":false,"domain":false,"grid":true,"gridColor":"#8a8a8a","gridDash":[],"gridWidth":1,"title":null}}}},
{"data":{"name":"ftxt"},"transform":[{"filter":"datum.p=='L'"}],"mark":{"type":"text","align":"left","baseline":"middle","font":"Liberation Serif","fontStyle":"italic","fontSize":7.5,"color":"#111"},
"encoding":{"x":{"field":"x","type":"quantitative","axis":{"values":[0,1,2,3,4,5,6],"labels":false,"domain":false,"grid":true,"gridColor":"#8a8a8a","gridDash":[],"gridWidth":1,"title":null}},
"y":{"field":"y","type":"quantitative","axis":{"values":[0,1,2,3,4,5,6],"labels":false,"domain":false,"grid":true,"gridColor":"#8a8a8a","gridDash":[],"gridWidth":1,"title":null}},"text":{"field":"s","type":"nominal"}}},
{"data":{"name":"ftxt"},"transform":[{"filter":"datum.p=='C'"}],"mark":{"type":"text","align":"center","baseline":"middle","font":"Liberation Serif","fontStyle":"italic","fontSize":7.5,"color":"#111"},
"encoding":{"x":{"field":"x","type":"quantitative","axis":{"values":[0,1,2,3,4,5,6],"labels":false,"domain":false,"grid":true,"gridColor":"#8a8a8a","gridDash":[],"gridWidth":1,"title":null}},
"y":{"field":"y","type":"quantitative","axis":{"values":[0,1,2,3,4,5,6],"labels":false,"domain":false,"grid":true,"gridColor":"#8a8a8a","gridDash":[],"gridWidth":1,"title":null}},"text":{"field":"s","type":"nominal"}}}
]}
]},
{"bounds":"flush","spacing":47.4,"hconcat":[
{"width":233,"height":143,"title":{"text":"Prędkość","offset":3.3,"dx":-7.5},
"layer":[
{"data":{"name":"vel"},"mark":{"type":"line","strokeWidth":1,"opacity":0.85},
"encoding":{
"x":{"field":"t","type":"quantitative","scale":{"domain":[0,0.1],"nice":false},"axis":{"values":[0,0.01,0.02,0.03,0.04,0.05,0.06,0.07,0.08,0.09,0.1],"format":"~g","labelPadding":1.2,"title":"sek","titleX":238,"titleY":6,"titleAlign":"left","titleBaseline":"middle"}},
"y":{"field":"v","type":"quantitative","scale":{"domain":[-0.05,0.3],"nice":false,"zero":false},"axis":{"values":[-0.05,0,0.05,0.1,0.15,0.2,0.25,0.3],"format":"~g","labelPadding":1,"labelExpr":"replace(datum.label,'−','-')","title":"|","titleOpacity":0,"titleX":-22,"titleY":60,"titleAngle":0,"titleAlign":"left","titleBaseline":"middle"}},
"color":{"field":"u","type":"nominal","scale":{"domain":["u=10","u=9","u=8","u=7","u=6","u=5","u=4","u=3","u=2.5","u=2","u=1.5","u=1"],"range":["#1a1aff","#4d4dff","#2626f2","#5e5eff","#7070ff","#5252ff","#7a7aff","#6666ee","#8585ff","#5a5aff","#8f8fff","#4444ff"]},"legend":null}}},
{"data":{"values":[{}]},"mark":{"type":"rect","fill":"white","stroke":"#444","strokeWidth":1},
"encoding":{"x":{"datum":0.0797,"type":"quantitative","axis":{"values":[0,0.01,0.02,0.03,0.04,0.05,0.06,0.07,0.08,0.09,0.1],"format":"~g","labelPadding":1.2,"title":"sek","titleX":238,"titleY":6,"titleAlign":"left","titleBaseline":"middle"}},"x2":{"datum":0.0982},
"y":{"datum":0.157,"type":"quantitative","axis":{"values":[-0.05,0,0.05,0.1,0.15,0.2,0.25,0.3],"format":"~g","labelPadding":1,"labelExpr":"replace(datum.label,'−','-')","title":"|","titleOpacity":0,"titleX":-22,"titleY":60,"titleAngle":0,"titleAlign":"left","titleBaseline":"middle"}},"y2":{"datum":-0.045}}},
{"data":{"name":"leg3"},"mark":{"type":"rule","strokeWidth":1},
"encoding":{"x":{"datum":0.0803,"type":"quantitative","axis":{"values":[0,0.01,0.02,0.03,0.04,0.05,0.06,0.07,0.08,0.09,0.1],"format":"~g","labelPadding":1.2,"title":"sek","titleX":238,"titleY":6,"titleAlign":"left","titleBaseline":"middle"}},"x2":{"datum":0.086},
"y":{"field":"ly","type":"quantitative","axis":{"values":[-0.05,0,0.05,0.1,0.15,0.2,0.25,0.3],"format":"~g","labelPadding":1,"labelExpr":"replace(datum.label,'−','-')","title":"|","titleOpacity":0,"titleX":-22,"titleY":60,"titleAngle":0,"titleAlign":"left","titleBaseline":"middle"}},
"color":{"field":"u","type":"nominal","scale":{"domain":["u=10","u=9","u=8","u=7","u=6","u=5","u=4","u=3","u=2.5","u=2","u=1.5","u=1"],"range":["#1a1aff","#4d4dff","#2626f2","#5e5eff","#7070ff","#5252ff","#7a7aff","#6666ee","#8585ff","#5a5aff","#8f8fff","#4444ff"]},"legend":null}}},
{"data":{"name":"leg3"},"mark":{"type":"text","align":"left","baseline":"middle","font":"Liberation Sans","fontSize":6.5,"color":"#555"},
"encoding":{"x":{"datum":0.0886,"type":"quantitative","axis":{"values":[0,0.01,0.02,0.03,0.04,0.05,0.06,0.07,0.08,0.09,0.1],"format":"~g","labelPadding":1.2,"title":"sek","titleX":238,"titleY":6,"titleAlign":"left","titleBaseline":"middle"}},
"y":{"field":"ly","type":"quantitative","axis":{"values":[-0.05,0,0.05,0.1,0.15,0.2,0.25,0.3],"format":"~g","labelPadding":1,"labelExpr":"replace(datum.label,'−','-')","title":"|","titleOpacity":0,"titleX":-22,"titleY":60,"titleAngle":0,"titleAlign":"left","titleBaseline":"middle"}},"text":{"field":"u","type":"nominal"}}},
{"data":{"name":"leg3"},"mark":{"type":"rule","color":"#666","strokeWidth":0.8},
"encoding":{"x":{"field":"tx","type":"quantitative","axis":{"values":[0,0.01,0.02,0.03,0.04,0.05,0.06,0.07,0.08,0.09,0.1],"format":"~g","labelPadding":1.2,"title":"sek","titleX":238,"titleY":6,"titleAlign":"left","titleBaseline":"middle"}},"x2":{"field":"lx"},
"y":{"field":"ty","type":"quantitative","axis":{"values":[-0.05,0,0.05,0.1,0.15,0.2,0.25,0.3],"format":"~g","labelPadding":1,"labelExpr":"replace(datum.label,'−','-')","title":"|","titleOpacity":0,"titleX":-22,"titleY":60,"titleAngle":0,"titleAlign":"left","titleBaseline":"middle"}},"y2":{"field":"ly"}}},
{"data":{"name":"leg3"},"mark":{"type":"point","shape":"M0,0L1.6,-0.55L1.6,0.55Z","filled":true,"color":"#111","size":25,"opacity":1,"angle":40},
"encoding":{"x":{"field":"tx","type":"quantitative","axis":{"values":[0,0.01,0.02,0.03,0.04,0.05,0.06,0.07,0.08,0.09,0.1],"format":"~g","labelPadding":1.2,"title":"sek","titleX":238,"titleY":6,"titleAlign":"left","titleBaseline":"middle"}},
"y":{"field":"ty","type":"quantitative","axis":{"values":[-0.05,0,0.05,0.1,0.15,0.2,0.25,0.3],"format":"~g","labelPadding":1,"labelExpr":"replace(datum.label,'−','-')","title":"|","titleOpacity":0,"titleX":-22,"titleY":60,"titleAngle":0,"titleAlign":"left","titleBaseline":"middle"}}}}
]},
{"width":243,"height":144,"title":{"text":"Prąd","offset":3.3,"dx":-8.7},
"layer":[
{"data":{"name":"cur"},"mark":{"type":"line","strokeWidth":0.9,"opacity":0.85},
"encoding":{
"x":{"field":"t","type":"quantitative","scale":{"domain":[0,0.1],"nice":false},"axis":{"values":[0,0.01,0.02,0.03,0.04,0.05,0.06,0.07,0.08,0.09,0.1],"format":"~g","labelPadding":1.2,"title":"sek","titleX":253,"titleY":5,"titleAlign":"left","titleBaseline":"middle"}},
"y":{"field":"i","type":"quantitative","scale":{"domain":[-0.5,4.5],"nice":false,"zero":false},"axis":{"values":[-0.5,0,0.5,1,1.5,2,2.5,3,3.5,4,4.5],"format":"~g","labelPadding":7,"labelExpr":"replace(datum.label,'−','-')","title":null}},
"color":{"field":"u","type":"nominal","scale":{"domain":["u=10","u=9","u=8","u=7","u=6","u=5","u=4","u=3","u=2.5","u=2","u=1.5","u=1"],"range":["#1a1aff","#4d4dff","#2626f2","#5e5eff","#7070ff","#5252ff","#7a7aff","#6666ee","#8585ff","#5a5aff","#8f8fff","#4444ff"]},"legend":null}}},
{"data":{"values":[{}]},"mark":{"type":"rect","fill":"white","stroke":"#444","strokeWidth":1},
"encoding":{"x":{"datum":0.0794,"type":"quantitative","axis":{"values":[0,0.01,0.02,0.03,0.04,0.05,0.06,0.07,0.08,0.09,0.1],"format":"~g","labelPadding":1.2,"title":"sek","titleX":253,"titleY":5,"titleAlign":"left","titleBaseline":"middle"}},"x2":{"datum":0.0979},
"y":{"datum":2.47,"type":"quantitative","axis":{"values":[-0.5,0,0.5,1,1.5,2,2.5,3,3.5,4,4.5],"format":"~g","labelPadding":7,"labelExpr":"replace(datum.label,'−','-')","title":null}},"y2":{"datum":-0.41}}},
{"data":{"name":"leg4"},"mark":{"type":"rule","strokeWidth":1},
"encoding":{"x":{"datum":0.0801,"type":"quantitative","axis":{"values":[0,0.01,0.02,0.03,0.04,0.05,0.06,0.07,0.08,0.09,0.1],"format":"~g","labelPadding":1.2,"title":"sek","titleX":253,"titleY":5,"titleAlign":"left","titleBaseline":"middle"}},"x2":{"datum":0.0853},
"y":{"field":"ly","type":"quantitative","axis":{"values":[-0.5,0,0.5,1,1.5,2,2.5,3,3.5,4,4.5],"format":"~g","labelPadding":7,"labelExpr":"replace(datum.label,'−','-')","title":null}},
"color":{"field":"u","type":"nominal","scale":{"domain":["u=10","u=9","u=8","u=7","u=6","u=5","u=4","u=3","u=2.5","u=2","u=1.5","u=1"],"range":["#1a1aff","#4d4dff","#2626f2","#5e5eff","#7070ff","#5252ff","#7a7aff","#6666ee","#8585ff","#5a5aff","#8f8fff","#4444ff"]},"legend":null}}},
{"data":{"name":"leg4"},"mark":{"type":"text","align":"left","baseline":"middle","font":"Liberation Sans","fontSize":6.5,"color":"#555"},
"encoding":{"x":{"datum":0.0863,"type":"quantitative","axis":{"values":[0,0.01,0.02,0.03,0.04,0.05,0.06,0.07,0.08,0.09,0.1],"format":"~g","labelPadding":1.2,"title":"sek","titleX":253,"titleY":5,"titleAlign":"left","titleBaseline":"middle"}},
"y":{"field":"ly","type":"quantitative","axis":{"values":[-0.5,0,0.5,1,1.5,2,2.5,3,3.5,4,4.5],"format":"~g","labelPadding":7,"labelExpr":"replace(datum.label,'−','-')","title":null}},"text":{"field":"u","type":"nominal"}}},
{"data":{"name":"leg4"},"mark":{"type":"rule","color":"#666","strokeWidth":0.8},
"encoding":{"x":{"field":"tx","type":"quantitative","axis":{"values":[0,0.01,0.02,0.03,0.04,0.05,0.06,0.07,0.08,0.09,0.1],"format":"~g","labelPadding":1.2,"title":"sek","titleX":253,"titleY":5,"titleAlign":"left","titleBaseline":"middle"}},"x2":{"field":"lx"},
"y":{"field":"ty","type":"quantitative","axis":{"values":[-0.5,0,0.5,1,1.5,2,2.5,3,3.5,4,4.5],"format":"~g","labelPadding":7,"labelExpr":"replace(datum.label,'−','-')","title":null}},"y2":{"field":"ly"}}},
{"data":{"name":"leg4"},"mark":{"type":"point","shape":"M0,0L1.6,-0.55L1.6,0.55Z","filled":true,"color":"#111","size":25,"opacity":1,"angle":13},
"encoding":{"x":{"field":"tx","type":"quantitative","axis":{"values":[0,0.01,0.02,0.03,0.04,0.05,0.06,0.07,0.08,0.09,0.1],"format":"~g","labelPadding":1.2,"title":"sek","titleX":253,"titleY":5,"titleAlign":"left","titleBaseline":"middle"}},
"y":{"field":"ty","type":"quantitative","axis":{"values":[-0.5,0,0.5,1,1.5,2,2.5,3,3.5,4,4.5],"format":"~g","labelPadding":7,"labelExpr":"replace(datum.label,'−','-')","title":null}}}}
]}
]}
],
"config":{
"view":{"stroke":null},
"axis":{"labelFont":"Liberation Sans","labelFontSize":7,"labelColor":"#555","ticks":false,"tickSize":0,"grid":true,"gridColor":"#a8a8a8","gridDash":[1,2],"gridWidth":0.8,"domainColor":"#888","labelOverlap":false,"labelFlush":false,"titleFont":"Liberation Sans","titleFontSize":6.5,"titleFontWeight":"normal","titleColor":"#333"},
"title":{"font":"Liberation Sans","fontSize":7.5,"fontWeight":"bold","color":"#222","anchor":"middle","baseline":"bottom","frame":"group"}
}
}
